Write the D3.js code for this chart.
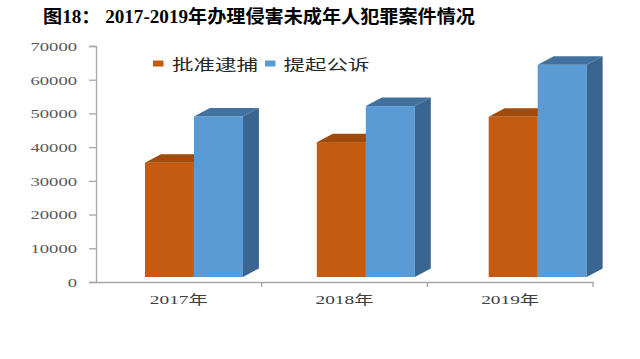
<!DOCTYPE html>
<html><head><meta charset="utf-8">
<script src="https://cdn.jsdelivr.net/npm/d3@7"></script>
<style>html,body{margin:0;padding:0;background:#fff;}svg{display:block;}</style>
</head><body>
<svg id="chart" width="640" height="359"></svg>
<script>
const title = "图18： 2017-2019年办理侵害未成年人犯罪案件情况";
const categories = ["2017年", "2018年", "2019年"];
const seriesNames = ["批准逮捕", "提起公诉"];
const arrestValues = [33900, 40000, 47500];
const prosecuteValues = [47600, 50700, 62950];
const yTicks = [0, 10000, 20000, 30000, 40000, 50000, 60000, 70000];

const colors = {
  "批准逮捕": {front: "#C55A11", top: "#A04A0C", side: "#8A3F0A"},
  "提起公诉": {front: "#5B9BD5", top: "#41719F", side: "#3A6590"}
};

const svg = d3.select("#chart");
const serif = "'Liberation Serif','Times New Roman','Noto Sans CJK SC',serif";
const sansCJK = "'Noto Sans CJK SC','Noto Sans',sans-serif";

// title
svg.append("text").attr("x", 259).attr("y", 23).attr("text-anchor", "middle")
  .attr("font-family", serif).attr("font-weight", "bold").attr("font-size", 18)
  .attr("textLength", 432).attr("lengthAdjust", "spacingAndGlyphs")
  .attr("fill", "#000").text(title);

const y = d3.scaleLinear().domain([0, 70000]).range([282, 46]);
const xAxisScale = d3.scaleBand().domain(categories).range([96, 593]);
const xGroup = d3.scaleBand().domain(categories).range([108, 623.6]).paddingInner(0.43).paddingOuter(0.215);
const xSeries = d3.scaleBand().domain(seriesNames).range([0, xGroup.bandwidth()]);

const axisColor = "#A6A6A6";
// y axis
const yAxis = d3.axisLeft(y).tickValues(yTicks).tickSize(7).tickFormat(d3.format("d"));
const gy = svg.append("g").attr("transform", "translate(96,0)").call(yAxis);
gy.select(".domain").attr("stroke", axisColor).attr("stroke-width", 1.3);
gy.selectAll(".tick line").attr("stroke", axisColor).attr("stroke-width", 1.3);
gy.selectAll(".tick text").attr("x", -19).attr("dy", "0.35em")
  .attr("font-family", serif).attr("font-size", 12.5).attr("fill", "#595959")
  .attr("textLength", d => String(d).length * 9.3).attr("lengthAdjust", "spacingAndGlyphs");

// x axis
const xAxis = d3.axisBottom(xAxisScale).tickSize(0);
const gx = svg.append("g").attr("transform", "translate(0,282)").call(xAxis);
gx.select(".domain").attr("stroke", axisColor).attr("stroke-width", 1.3);
gx.selectAll(".tick text").attr("y", 13)
  .attr("font-family", serif).attr("font-size", 13).attr("fill", "#404040")
  .attr("textLength", 58).attr("lengthAdjust", "spacingAndGlyphs");
// category separator ticks
const sepTicks = categories.map(c => xAxisScale(c) + xAxisScale.bandwidth());
gx.selectAll(".sep").data(sepTicks).enter().append("line")
  .attr("x1", d => d).attr("x2", d => d).attr("y1", 0).attr("y2", 5)
  .attr("stroke", axisColor).attr("stroke-width", 1.3);

// 3D bars
const dx = 16, dy = -8.5, drop = -5;
const data = [];
categories.forEach((c, i) => {
  data.push({cat: c, s: seriesNames[0], v: arrestValues[i]});
  data.push({cat: c, s: seriesNames[1], v: prosecuteValues[i]});
});
const bars = svg.append("g");
data.forEach(d => {
  const x0 = xGroup(d.cat) + xSeries(d.s);
  const w = xSeries.bandwidth();
  const yt = y(d.v) + drop, yb = y(0) + drop;
  const col = colors[d.s];
  const g = bars.append("g");
  g.append("rect").attr("x", x0).attr("y", yt).attr("width", w).attr("height", yb - yt).attr("fill", col.front);
  g.append("polygon").attr("points", [[x0, yt], [x0 + dx, yt + dy], [x0 + w + dx, yt + dy], [x0 + w, yt]].map(p => p.join(",")).join(" "))
    .attr("fill", col.top);
  g.append("polygon").attr("points", [[x0 + w, yt], [x0 + w + dx, yt + dy], [x0 + w + dx, yb + dy], [x0 + w, yb]].map(p => p.join(",")).join(" "))
    .attr("fill", col.side);
});

// legend
const legendItems = [
  {name: seriesNames[0], rx: 153, tx: 172},
  {name: seriesNames[1], rx: 265, tx: 283.5}
];
const lg = svg.append("g");
legendItems.forEach(it => {
  lg.append("rect").attr("x", it.rx).attr("y", 60.5).attr("width", 10.5).attr("height", 6).attr("fill", colors[it.name].front);
  lg.append("text").attr("x", it.tx).attr("y", 69.5).attr("font-family", sansCJK).attr("font-size", 15)
    .attr("fill", "#262626").attr("textLength", 86).attr("lengthAdjust", "spacingAndGlyphs").text(it.name);
});
</script>
</body></html>
